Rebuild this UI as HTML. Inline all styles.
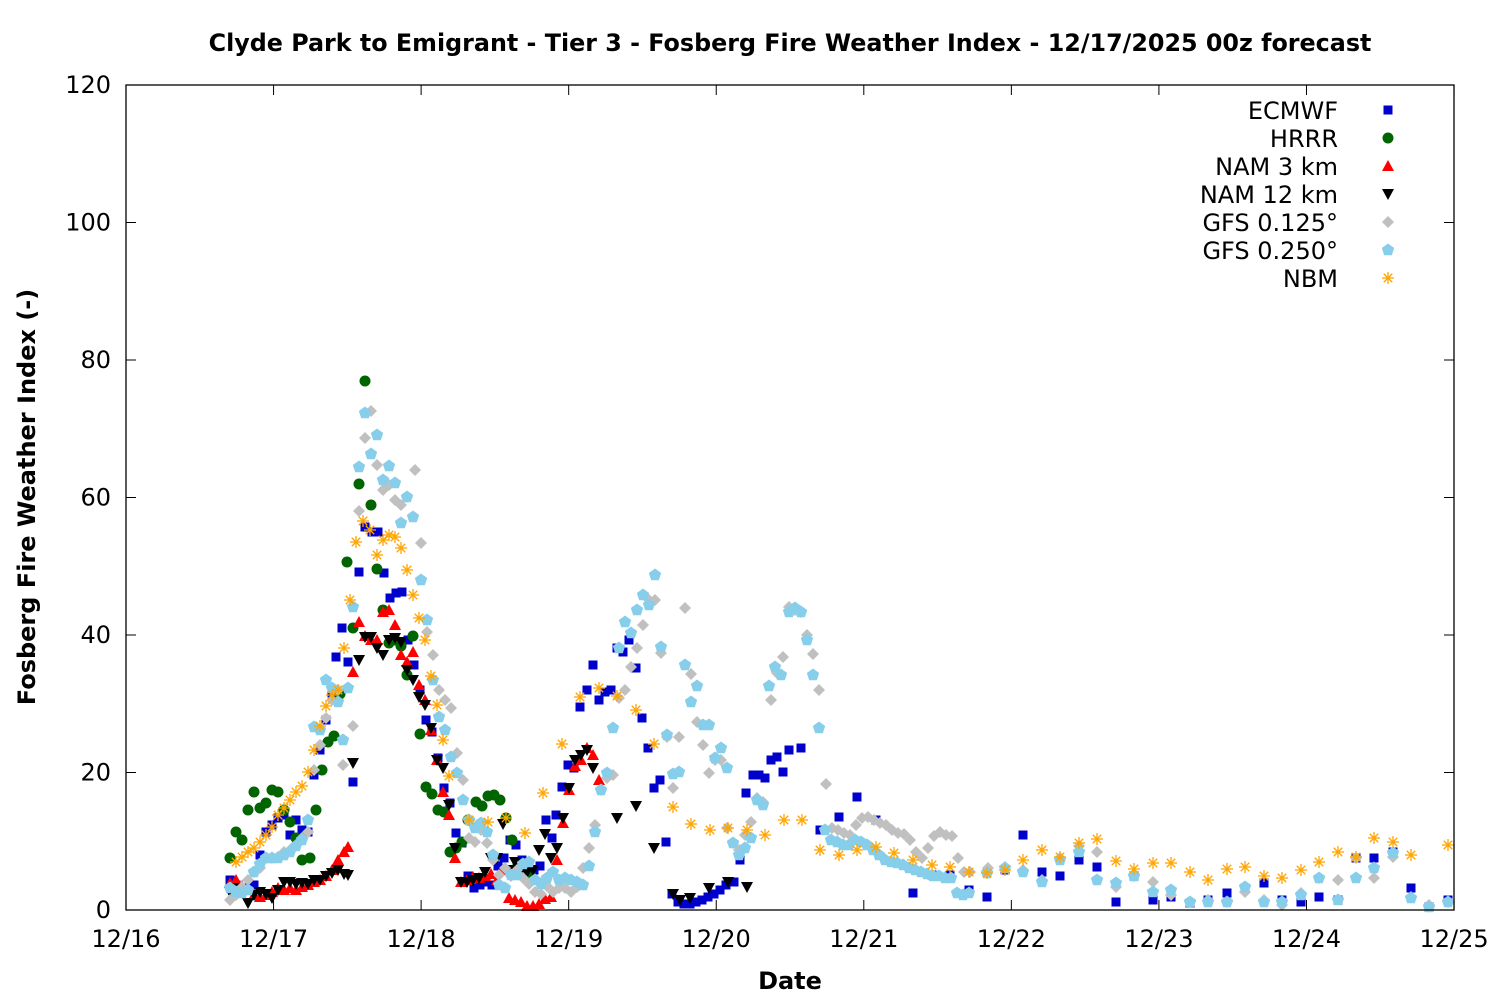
<!DOCTYPE html>
<html><head><meta charset="utf-8"><style>
html,body{margin:0;padding:0;background:#fff;}
svg{display:block;font-family:"DejaVu Sans","Liberation Sans",sans-serif;}
</style></head><body>
<svg id="s" width="1500" height="1000" viewBox="0 0 1500 1000" xmlns="http://www.w3.org/2000/svg">
<rect width="1500" height="1000" fill="#fff"/>
<text x="790" y="51" text-anchor="middle" font-size="23.8" font-weight="bold">Clyde Park to Emigrant - Tier 3 - Fosberg Fire Weather Index - 12/17/2025 00z forecast</text>
<g id="ticks" stroke="#000" stroke-width="1"></g>
<g id="pts"></g>
<rect x="126" y="85" width="1328" height="825" fill="none" stroke="#000" stroke-width="1.3"/>
<g id="lab" font-size="24"></g>
<text x="790" y="989" text-anchor="middle" font-size="24" font-weight="bold">Date</text>
<text transform="translate(35,497) rotate(-90)" text-anchor="middle" font-size="24" font-weight="bold">Fosberg Fire Weather Index (-)</text>
<g font-size="24" text-anchor="end">
<text x="1338" y="119">ECMWF</text>
<text x="1338" y="147">HRRR</text>
<text x="1338" y="175">NAM 3 km</text>
<text x="1338" y="203">NAM 12 km</text>
<text x="1338" y="231">GFS 0.125°</text>
<text x="1338" y="259">GFS 0.250°</text>
<text x="1338" y="287">NBM</text>
</g>
</svg>
<script>
var NS="http://www.w3.org/2000/svg";
function el(t,a,p){var e=document.createElementNS(NS,t);for(var k in a)e.setAttribute(k,a[k]);(p||document.getElementById('pts')).appendChild(e);return e;}
var tk=document.getElementById('ticks'),lb=document.getElementById('lab');
for(var i=0;i<=6;i++){var y=910-i*137.5;el('line',{x1:126,x2:136,y1:y,y2:y},tk);el('line',{x1:1444,x2:1454,y1:y,y2:y},tk);
 var t=el('text',{x:111,y:y+8,'text-anchor':'end'},lb);t.textContent=i*20;}
for(var d=0;d<=9;d++){var x=126+d*147.56;el('line',{x1:x,x2:x,y1:900,y2:910},tk);el('line',{x1:x,x2:x,y1:85,y2:95},tk);
 var t=el('text',{x:x,y:947,'text-anchor':'middle'},lb);t.textContent='12/'+(16+d);}
function sq(x,y){el('rect',{x:x-4.5,y:y-4.5,width:9,height:9,fill:'#0000cc'});}
function ci(x,y){el('circle',{cx:x,cy:y,r:5.5,fill:'#006400'});}
function tu(x,y){el('polygon',{points:(x-6)+','+(y+5)+' '+(x+6)+','+(y+5)+' '+x+','+(y-6),fill:'#ff0000'});}
function td(x,y){el('polygon',{points:(x-6)+','+(y-5)+' '+(x+6)+','+(y-5)+' '+x+','+(y+6),fill:'#000'});}
function di(x,y){el('polygon',{points:x+','+(y-6)+' '+(x+6)+','+y+' '+x+','+(y+6)+' '+(x-6)+','+y,fill:'#c0c0c0'});}
function pe(x,y){var p=[];for(var k=0;k<5;k++){var a=-Math.PI/2+k*2*Math.PI/5;p.push((x+6.5*Math.cos(a)).toFixed(1)+','+(y+6.5*Math.sin(a)).toFixed(1));}el('polygon',{points:p.join(' '),fill:'#87ceeb'});}
function st(x,y){var g=el('g',{stroke:'#ffa500','stroke-width':1.3});for(var k=0;k<4;k++){var a=k*Math.PI/4,c=6*Math.cos(a),s=6*Math.sin(a);el('line',{x1:x-c,y1:y-s,x2:x+c,y2:y+s},g);}}
function draw(f,a){for(var i=0;i<a.length;i+=2)f(a[i],a[i+1]);}
var G125=[230,900,236,895,242,887,248,880,254,872,260,868,266,858,272,858,278,857,284,852,290,850,296,845,302,838,308,832,314,770,320,745,326,718,332,700,338,690,343,765,353,726,359,511,365,438,371,411,377,465,383,490,389,485,395,500,401,505,407,497,415,470,421,543,427,632,433,655,439,690,445,700,451,708,457,753,463,780,469,838,475,842,481,830,487,843,493,860,499,875,505,868,511,876,517,870,523,878,529,884,535,892,541,894,547,886,553,892,559,888,565,888,571,892,577,887,583,868,589,848,595,825,601,790,607,778,613,775,619,698,625,690,631,667,637,648,643,625,649,600,655,600,661,653,667,737,673,788,679,737,685,608,691,674,697,722,703,745,709,773,715,760,721,760,727,828,733,843,739,850,745,835,751,822,757,798,763,802,771,700,777,673,783,657,789,607,795,610,801,612,807,635,813,654,819,690,826,784,832,828,838,830,844,833,850,835,856,825,862,818,868,817,874,820,880,823,886,825,892,830,898,833,904,834,910,840,916,852,922,858,928,848,934,836,940,832,946,835,952,836,958,858,964,872,970,872,988,868,1005,867,1023,870,1042,880,1060,858,1079,846,1097,852,1116,887,1134,876,1153,882,1171,895,1190,902,1208,900,1227,902,1245,892,1264,900,1282,905,1301,893,1319,878,1338,880,1356,858,1374,878,1393,857,1411,897,1429,905,1448,902];
var G250=[230,888,236,892,242,893,248,890,254,872,260,864,266,858,272,858,278,858,284,855,290,852,296,846,302,840,308,820,314,727,320,730,326,680,332,688,338,702,343,740,348,688,353,607,359,467,365,413,371,454,377,435,383,480,389,466,395,483,401,523,407,497,413,517,421,580,427,620,433,680,439,717,445,730,451,757,457,773,463,800,469,820,475,828,481,823,487,832,493,855,499,885,505,888,511,875,517,875,523,864,529,862,535,880,541,884,547,878,553,872,559,880,565,878,571,880,577,882,583,885,589,866,595,832,601,790,607,773,613,728,619,648,625,622,631,633,637,610,643,595,649,605,655,575,661,647,667,735,673,774,679,772,685,665,691,702,697,686,703,725,709,725,715,758,721,748,727,768,733,843,739,855,745,848,751,838,757,800,763,805,769,686,775,667,781,675,789,612,795,608,801,612,807,640,813,675,819,728,825,830,831,840,837,842,843,845,849,845,855,840,861,842,867,845,873,850,879,855,885,860,891,862,897,863,903,865,909,868,915,870,921,872,927,874,933,876,939,876,945,878,951,878,957,893,963,895,969,893,987,873,1005,868,1023,872,1042,882,1060,860,1079,852,1097,880,1116,883,1134,876,1153,892,1171,890,1190,902,1208,902,1227,902,1245,887,1264,902,1282,902,1301,895,1319,878,1338,900,1356,878,1374,868,1393,853,1411,898,1429,907,1448,902];
var NBM=[236,862,242,857,248,852,254,848,260,842,266,835,272,827,278,815,284,808,290,800,296,792,302,786,308,772,314,750,320,726,326,706,332,695,338,690,344,648,350,600,356,542,363,521,370,530,377,555,383,540,389,535,395,537,401,548,407,570,413,595,419,618,425,640,431,676,437,705,443,740,449,776,469,820,488,822,506,818,525,833,543,793,562,744,580,697,599,688,617,696,636,710,654,744,673,807,691,824,710,830,728,828,747,830,765,835,784,820,802,820,820,850,839,855,857,850,876,847,894,853,913,860,932,865,950,867,969,872,987,873,1005,870,1023,860,1042,850,1060,857,1079,843,1097,839,1116,861,1134,869,1153,863,1171,863,1190,872,1208,880,1227,869,1245,867,1264,876,1282,878,1301,870,1319,862,1338,852,1356,857,1374,838,1393,842,1411,855,1448,845];
var EC=[230,880,236,885,242,890,248,888,254,885,260,855,266,832,272,825,278,818,284,815,290,835,296,820,302,830,308,832,314,775,320,750,326,720,332,693,336,657,342,628,348,662,353,782,359,572,365,527,372,532,378,532,384,573,390,598,396,593,402,592,408,640,414,665,420,690,426,720,432,732,438,758,444,788,450,803,456,833,462,843,468,876,474,888,480,885,486,882,492,885,498,866,504,858,510,840,516,845,522,860,528,875,534,870,540,866,546,820,552,838,556,815,562,787,568,765,574,768,580,707,587,690,593,665,599,700,605,692,611,690,617,648,623,652,629,640,636,668,642,718,648,748,654,788,660,780,666,842,672,894,678,902,684,904,690,904,696,902,702,900,708,897,714,894,720,890,726,885,734,882,740,860,746,793,753,775,759,775,765,778,771,760,777,757,783,772,789,750,801,748,820,830,839,817,857,797,876,820,913,893,932,875,950,875,969,890,987,897,1005,870,1023,835,1042,872,1060,876,1079,860,1097,867,1116,902,1134,876,1153,900,1171,897,1190,903,1208,900,1227,893,1245,888,1264,883,1282,900,1301,902,1319,897,1338,900,1356,858,1374,858,1393,852,1411,888,1429,907,1448,900];
var HR=[230,858,236,832,242,840,248,810,254,792,260,808,266,803,272,790,278,792,284,810,290,822,296,838,302,860,310,858,316,810,322,770,328,742,334,736,340,694,347,562,353,628,359,484,365,381,371,505,377,569,383,610,389,643,395,640,401,646,407,675,413,636,420,734,426,787,432,794,438,810,444,812,450,852,456,848,462,842,468,820,476,802,482,806,488,796,494,795,500,800,506,818,512,840,518,864,524,872,530,874];
var N3=[230,883,236,880,242,886,248,890,254,895,260,897,266,895,272,892,278,888,284,890,290,888,296,890,302,887,308,885,314,882,320,880,326,876,332,870,338,860,344,852,348,847,353,672,359,622,365,636,371,640,377,640,383,612,389,610,395,625,401,655,407,662,413,652,419,685,425,700,431,730,437,760,443,792,449,815,455,858,461,882,467,880,473,877,479,878,485,876,491,874,497,880,503,870,509,898,515,900,521,902,527,906,533,906,539,904,545,899,551,897,557,860,563,823,569,790,575,766,581,760,587,748,593,755,599,780];
var N12=[230,892,236,888,242,892,248,903,254,895,260,892,266,894,272,898,278,890,284,882,290,882,296,884,302,883,308,884,314,880,320,880,326,876,332,873,338,870,344,874,348,875,353,763,359,660,365,637,371,637,377,648,383,655,389,640,395,638,401,642,407,670,413,680,419,697,425,705,431,728,437,760,443,768,449,805,455,848,461,882,467,882,473,880,479,878,485,872,491,858,497,858,503,824,509,870,515,862,521,870,527,872,533,870,539,850,545,834,551,858,557,848,563,818,569,788,575,760,581,755,587,750,593,768,617,818,636,806,654,848,673,894,680,900,690,898,709,888,728,882,747,887];
draw(sq,EC);draw(ci,HR);draw(tu,N3);draw(td,N12);draw(di,G125);draw(pe,G250);draw(st,NBM);
sq(1388,110);ci(1388,138);tu(1388,166);td(1388,194);di(1388,222);pe(1388,250);st(1388,278);
</script>
</body></html>
